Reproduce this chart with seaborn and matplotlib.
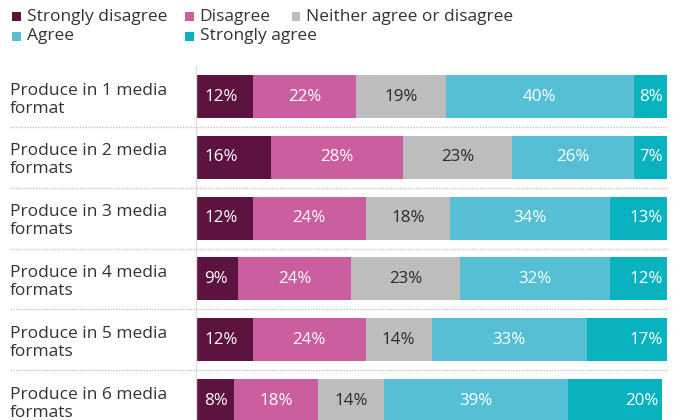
import matplotlib
matplotlib.use("Agg")
import matplotlib.pyplot as plt
from matplotlib.patches import Rectangle
import numpy as np
import pandas as pd
import seaborn as sns

# Survey rows and response shares (%)
categories = [
    "Produce in 1 media\nformat",
    "Produce in 2 media\nformats",
    "Produce in 3 media\nformats",
    "Produce in 4 media\nformats",
    "Produce in 5 media\nformats",
    "Produce in 6 media\nformats",
]
responses = ["Strongly disagree", "Disagree", "Neither agree or disagree",
             "Agree", "Strongly agree"]
strongly_disagree = [12, 16, 12, 9, 12, 8]
disagree = [22, 28, 24, 24, 24, 18]
neither = [19, 23, 18, 23, 14, 14]
agree = [40, 26, 34, 32, 33, 39]
strongly_agree = [8, 7, 13, 12, 17, 20]

colors = ["#5C1340", "#CB5E9E", "#BDBDBD", "#56BFD3", "#08B3BF"]
label_colors = ["white", "white", "#2a2a2a", "white", "white"]
text_color = "#333333"

sns.set_theme(style="white")
plt.rcParams["font.family"] = ["Open Sans", "DejaVu Sans"]

W, H = 678, 420
fig = plt.figure(figsize=(W / 100, H / 100), dpi=100)
ax = fig.add_axes([196 / W, -0.026, (667 - 196) / W, 0.8686])

series = [strongly_disagree, disagree, neither, agree, strongly_agree]
cum = np.cumsum(np.array(series), axis=0)
df = pd.DataFrame({"category": categories})
for k in range(5):
    df[f"cum{k}"] = cum[k]

# stacked bars: draw running totals from the outermost segment inwards
for k in range(4, -1, -1):
    sns.barplot(data=df, x=f"cum{k}", y="category", orient="h",
                color=colors[k], saturation=1, width=0.707,
                linewidth=0, ax=ax)

ax.set_xlim(0, 100)
ax.set_ylim(5.5, -0.5)
ax.set_xlabel("")
ax.set_ylabel("")
ax.set_xticks([])

# segment value labels
for i in range(len(categories)):
    start = 0
    for k in range(5):
        v = series[k][i]
        end = min(start + v, 100)
        if k == 0:
            x, ha, dx = start, "left", 5.8
        elif k == 4:
            x, ha, dx = end, "right", -2.9
        else:
            x, ha, dx = (start + end) / 2, "center", 0
        ax.annotate(f"{v}%", (x, i), xytext=(dx, 0), textcoords="offset points",
                    ha=ha, va="center", color=label_colors[k], fontsize=12.2)
        start += v

# dotted row separators
for i in range(len(categories) - 1):
    ax.axhline(i + 0.5, xmin=(10 - 196) / (667 - 196), xmax=1.0025,
               color="#c4c4c4", lw=1, ls=(0, (1, 1)), clip_on=False, zorder=0)

for s in ["top", "right", "bottom"]:
    ax.spines[s].set_visible(False)
ax.spines["left"].set_color("#dddddd")
ax.spines["left"].set_linewidth(1)

ax.tick_params(axis="y", length=0, pad=(196 - 10) * 0.72, labelsize=12.5,
               labelcolor=text_color)
for t in ax.get_yticklabels():
    t.set_ha("left")
    t.set_linespacing(1.18)

# legend along the top
legend_pos = [(12.3, 21), (185, 21), (291.7, 21), (12.3, 40.5), (185, 40.5)]
for (px, py), name, c in zip(legend_pos, responses, colors):
    size = 8.7
    fig.add_artist(Rectangle((px / W, 1 - py / H), size / W, size / H,
                             transform=fig.transFigure, color=c, lw=0))
    fig.text((px + 14.5) / W, 1 - py / H, name, ha="left", va="baseline",
             fontsize=12.5, color=text_color)

fig.savefig("out.png", dpi=100)
